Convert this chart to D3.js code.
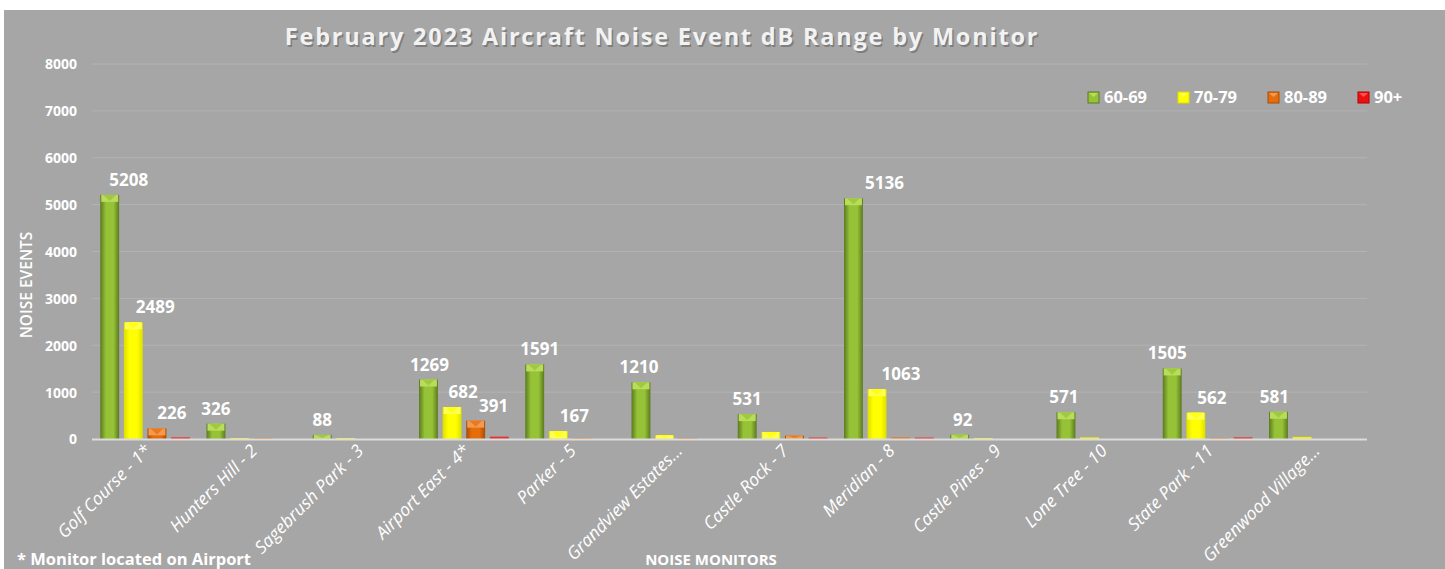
<!DOCTYPE html>
<html>
<head>
<meta charset="utf-8">
<script src="https://cdn.jsdelivr.net/npm/d3@7"></script>
<style>
  html, body { margin: 0; padding: 0; background: #ffffff; }
  svg { display: block; }
  text { font-family: "Open Sans", "Liberation Sans", sans-serif; }
</style>
</head>
<body>
<script>
// ---------- DATA ----------
const categories = ["Golf Course - 1*", "Hunters Hill - 2", "Sagebrush Park - 3", "Airport East - 4*",
  "Parker - 5", "Grandview Estates...", "Castle Rock - 7", "Meridian - 8", "Castle Pines - 9",
  "Lone Tree - 10", "State Park - 11", "Greenwood Village..."];
const seriesNames = ["60-69", "70-79", "80-89", "90+"];
const s6069 = [5208, 326, 88, 1269, 1591, 1210, 531, 5136, 92, 571, 1505, 581];
const s7079 = [2489, 6, 6, 682, 167, 80, 150, 1063, 6, 35, 562, 45];
const s8089 = [226, 4, 0, 391, 5, 5, 70, 35, 0, 0, 5, 0];
const s90 = [35, 0, 0, 50, 0, 0, 30, 30, 0, 0, 35, 0];
// which values carry a data label (per series, per category)
const labelShown = [
  [1,1,1,1,1,1,1,1,1,1,1,1],
  [1,0,0,1,1,0,0,1,0,0,1,0],
  [1,0,0,1,0,0,0,0,0,0,0,0],
  [0,0,0,0,0,0,0,0,0,0,0,0]
];
const yTicks = [0, 1000, 2000, 3000, 4000, 5000, 6000, 7000, 8000];
const titleText = "February 2023 Aircraft Noise Event dB Range by Monitor";
const yTitle = "NOISE EVENTS";
const xTitle = "NOISE MONITORS";
const footnote = "* Monitor located on Airport";

// ---------- LAYOUT / STYLE ----------
const W = 1445, H = 569;
const values = [s6069, s7079, s8089, s90];
const palette = [
  { edge: "#5b7a1e", mid: "#96c238", cap: "#b9dc5a", notch: "#9fca40", thin: "#a8d048" },
  { edge: "#dede00", mid: "#ffff00", cap: "#ffff50", notch: "#ffff10", thin: "#f4f400" },
  { edge: "#a84c05", mid: "#e66d0c", cap: "#f39a4e", notch: "#ea7a22", thin: "#e07a2a" },
  { edge: "#b00000", mid: "#ee1010", cap: "#ff5050", notch: "#ff2020", thin: "#e83030" }
];
// manual label nudges (dx) as in the reference
const labelDx = [
  [19, 0, 0, 1, 5, -2, 0, 31, 3, -2, -5, -4],
  [22, 0, 0, 11, 16, 0, 0, 24, 0, 0, 16, 0],
  [15, 0, 0, 18, 0, 0, 0, 0, 0, 0, 0, 0],
  [0, 0, 0, 0, 0, 0, 0, 0, 0, 0, 0, 0]
];

const svg = d3.select("body").append("svg").attr("width", W).attr("height", H);
const defs = svg.append("defs");
palette.forEach((p, i) => {
  const g = defs.append("linearGradient").attr("id", "grad" + i)
    .attr("x1", "0%").attr("x2", "100%").attr("y1", "0%").attr("y2", "0%");
  g.append("stop").attr("offset", "0%").attr("stop-color", p.edge);
  g.append("stop").attr("offset", "30%").attr("stop-color", p.mid);
  g.append("stop").attr("offset", "70%").attr("stop-color", p.mid);
  g.append("stop").attr("offset", "100%").attr("stop-color", p.edge);
});

// background
svg.append("rect").attr("x", 4).attr("y", 10).attr("width", W - 4).attr("height", H - 10).attr("fill", "#a6a6a6");

const x0 = d3.scaleBand().domain(categories).range([92, 1367]).paddingInner(0).paddingOuter(0);
const x1 = d3.scaleBand().domain(seriesNames).range([0, x0.bandwidth()]).paddingInner(0.2).paddingOuter(0.35);
const y = d3.scaleLinear().domain([0, 8000]).range([439, 64]);

// gridlines
svg.append("g").selectAll("line").data(yTicks.filter(t => t > 0)).join("line")
  .attr("x1", 92).attr("x2", 1367)
  .attr("y1", d => y(d)).attr("y2", d => y(d))
  .attr("stroke", "#b3b3b3").attr("stroke-width", 1);

// y axis labels
const yAxis = d3.axisLeft(y).tickValues(yTicks).tickSize(0).tickPadding(0).tickFormat(d3.format("d"));
const yg = svg.append("g").attr("transform", "translate(77,0)").call(yAxis);
yg.select(".domain").remove();
yg.attr("font-size", null).attr("font-family", null);
yg.selectAll("text").attr("fill", "#ffffff").attr("font-size", 14).attr("font-weight", "bold")
  .attr("dy", "0.35em");

// bars
categories.forEach((cat, ci) => {
  const g = svg.append("g").attr("transform", `translate(${x0(cat)},0)`);
  seriesNames.forEach((sn, si) => {
    const v = values[si][ci];
    if (!v) return;
    const bx = x1(sn), bw = x1.bandwidth();
    const top = y(v), h = y(0) - top;
    const p = palette[si];
    if (h >= 3) {
      g.append("rect").attr("x", bx).attr("y", top).attr("width", bw).attr("height", h)
        .attr("fill", `url(#grad${si})`);
      const capH = Math.min(7, h);
      g.append("rect").attr("x", bx + 1).attr("y", top).attr("width", bw - 2).attr("height", capH)
        .attr("fill", p.cap);
      g.append("path")
        .attr("d", `M${bx + 3},${top} L${bx + bw - 3},${top} L${bx + bw / 2},${top + capH - 1} Z`)
        .attr("fill", p.notch);
    } else {
      g.append("rect").attr("x", bx).attr("y", y(0) - Math.max(h, 1)).attr("width", bw)
        .attr("height", Math.max(h, 1)).attr("fill", p.thin);
    }
  });
});

// baseline
svg.append("line").attr("x1", 92).attr("x2", 1367).attr("y1", y(0) + 0.5).attr("y2", y(0) + 0.5)
  .attr("stroke", "#dcdcdc").attr("stroke-width", 2);

// data labels
categories.forEach((cat, ci) => {
  seriesNames.forEach((sn, si) => {
    if (!labelShown[si][ci]) return;
    const v = values[si][ci];
    svg.append("text")
      .attr("x", x0(cat) + x1(sn) + x1.bandwidth() / 2 + labelDx[si][ci])
      .attr("y", y(v) - 9)
      .attr("text-anchor", "middle")
      .attr("fill", "#ffffff").attr("font-size", 17).attr("font-weight", "bold")
      .text(v);
  });
});

// x axis labels
svg.append("g").selectAll("text").data(categories).join("text")
  .attr("transform", d => `translate(${x0(d) + x0.bandwidth() / 2 + 7},${452}) rotate(-45)`)
  .attr("text-anchor", "end")
  .attr("fill", "#ffffff").attr("font-size", 17.5).attr("font-style", "italic")
  .text(d => d);

// title
const tx = 662, ty = 45;
svg.append("text").attr("x", tx + 1.5).attr("y", ty + 1.5).attr("text-anchor", "middle")
  .attr("fill", "#6e6e6e").attr("opacity", 0.7).attr("font-size", 23.5).attr("font-weight", "bold")
  .attr("letter-spacing", 1.8).text(titleText);
svg.append("text").attr("x", tx).attr("y", ty).attr("text-anchor", "middle")
  .attr("fill", "#f2f2f2").attr("font-size", 23.5).attr("font-weight", "bold")
  .attr("letter-spacing", 1.8).text(titleText);

// y title
svg.append("text").attr("transform", "translate(32,285) rotate(-90)").attr("text-anchor", "middle")
  .attr("fill", "#ffffff").attr("font-size", 15.5).attr("font-weight", 600).text(yTitle);

// x title
svg.append("text").attr("x", 711).attr("y", 565).attr("text-anchor", "middle")
  .attr("fill", "#ffffff").attr("font-size", 15).attr("font-weight", "bold").text(xTitle);

// footnote
svg.append("text").attr("x", 17).attr("y", 565)
  .attr("fill", "#ffffff").attr("font-size", 16.5).attr("font-weight", "bold").text(footnote);

// legend
const legendX = [1088, 1178, 1268, 1358];
const lg = svg.append("g").selectAll("g").data(seriesNames).join("g")
  .attr("transform", (d, i) => `translate(${legendX[i]},92)`);
lg.append("rect").attr("width", 11).attr("height", 11).attr("fill", (d, i) => palette[i].mid)
  .attr("stroke", (d, i) => palette[i].edge).attr("stroke-width", 1);
lg.append("path").attr("d", "M1,1 L10,1 L5.5,5 Z").attr("fill", (d, i) => palette[i].cap);
lg.append("text").attr("x", 16).attr("y", 5.5).attr("dy", "0.35em")
  .attr("fill", "#ffffff").attr("font-size", 16.5).attr("font-weight", "bold").text(d => d);
</script>
</body>
</html>
